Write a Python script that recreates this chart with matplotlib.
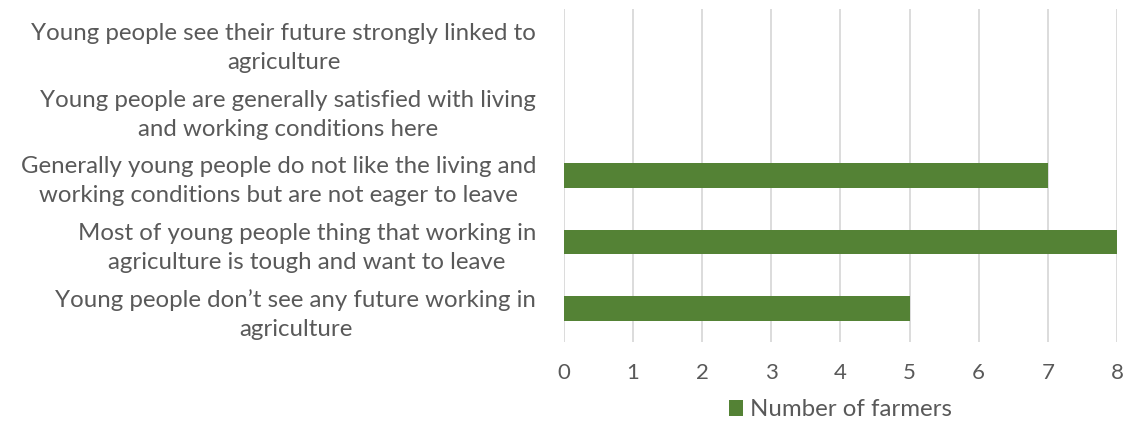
import matplotlib.pyplot as plt
import numpy as np

plt.rcParams['font.family'] = ['Lato', 'DejaVu Sans']

categorias = [
    "Young people see their future strongly linked to\nagriculture",
    "Young people are generally satisfied with living\nand working conditions here",
    "Generally young people do not like the living and\nworking conditions but are not eager to leave",
    "Most of young people thing that working in\nagriculture is tough and want to leave",
    "Young people don\u2019t see any future working in\nagriculture",
]
agricultores = [0, 0, 7, 8, 5]

cinza = '#595959'
verde = '#548235'

fig = plt.figure(figsize=(11.27, 4.24), dpi=100)
ax = fig.add_axes([0.5004, 0.1934, 0.4907, 0.7854])

y = np.arange(len(categorias))[::-1]
ax.barh(y, agricultores, height=0.37, color=verde, label='Number of farmers', zorder=3)

ax.set_ylim(-0.5, len(categorias) - 0.5)
ax.set_xlim(0, 8)
ax.set_xticks(range(0, 9))
ax.set_yticks(y)
ax.set_yticklabels(categorias, multialignment='center', linespacing=1.45)

ax.grid(axis='x', color='#d9d9d9', linewidth=1.3, zorder=0)
for lado in ax.spines.values():
    lado.set_visible(False)
ax.tick_params(axis='y', length=0, colors=cinza, labelsize=17.3, pad=20)
ax.tick_params(axis='x', length=0, colors=cinza, labelsize=16, pad=15)

ax.legend(loc='center', bbox_to_anchor=(0.5, -0.204), frameon=False,
          fontsize=17.3, labelcolor=cinza, handlelength=0.6, handleheight=0.6,
          handletextpad=0.3)

fig.savefig('out.png', dpi=100)
